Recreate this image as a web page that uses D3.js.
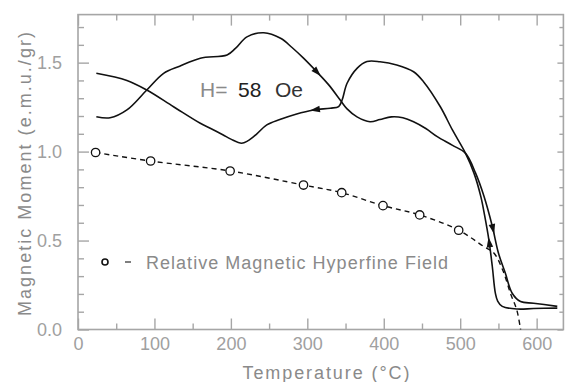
<!DOCTYPE html>
<html>
<head>
<meta charset="utf-8">
<script src="https://cdn.jsdelivr.net/npm/d3@7"></script>
<style>
  body { margin: 0; background: #fff; }
  svg { display: block; font-family: "Liberation Sans", Arial, sans-serif; }
</style>
</head>
<body>
<div id="chart"></div>
<script>
// data: [temperature C, moment emu/gr]
var heating = [[24,1.196],[42,1.19],[64,1.234],[90,1.346],[112,1.44],[133,1.48],[160,1.525],
  [195,1.543],[206,1.58],[221,1.645],[243,1.668],[265,1.637],[280,1.585],[295,1.525],[312,1.45],
  [328,1.375],[343,1.29],[352,1.24],[365,1.195],[382,1.168],[395,1.18],[410,1.195],[425,1.19],
  [439,1.168],[455,1.13],[470,1.084],[490,1.035],[507,0.99],[520,0.88],[531,0.75],[542,0.58],
  [550,0.43],[559,0.317],[568,0.204],[579,0.157],[596,0.148],[627,0.13]];

var cooling = [[627,0.12],[596,0.118],[575,0.115],[555,0.13],[549,0.16],[546,0.204],[542,0.354],
  [537.5,0.504],[532,0.64],[527,0.747],[518,0.879],[507,0.99],[490,1.12],[474,1.252],[452,1.393],
  [439,1.449],[417,1.487],[395,1.505],[378,1.506],[365,1.468],[352,1.384],[345.5,1.29],[341,1.253],
  [330,1.244],[308,1.234],[285,1.21],[264,1.18],[247,1.15],[234,1.1],[222,1.06],[214,1.047],
  [200,1.07],[190,1.093],[173,1.131],[160,1.159],[125,1.252],[90,1.346],[64,1.40],[24,1.44]];

// relative hyperfine field (circles) and the dashed tail to Tc
var hyperfine = [[23,0.995],[95,0.947],[199,0.891],[295,0.812],[345,0.769],[399,0.696],[447,0.644],[498,0.558]];
var hyperfineTail = [[531,0.466],[544,0.43],[556,0.33],[566,0.2],[574,0.11],[579,0]];

var xTicks = [0,100,200,300,400,500,600];
var xMinor = [50,150,250,350,450,550,650];
var yTicks = [0,0.5,1.0,1.5];
var yMinor = [0.1,0.2,0.3,0.4,0.6,0.7,0.8,0.9,1.1,1.2,1.3,1.4,1.6,1.7];

// arrows: which curve and near what temperature
var arrows = [{c: "heating", t: 313}, {c: "heating", t: 543}, {c: "cooling", t: 310}, {c: "cooling", t: 538}];

var W = 573, H = 382;
var axisCol = "#a6a6a6", textCol = "#a0a0a0";

var x = d3.scaleLinear().domain([0, 635]).range([78, 563.4]);
var y = d3.scaleLinear().domain([0, 1.77]).range([329.5, 14.6]);

var svg = d3.select("#chart").append("svg").attr("width", W).attr("height", H);

// frame
svg.append("rect")
  .attr("x", x(0)).attr("y", y(1.77))
  .attr("width", x(635) - x(0)).attr("height", y(0) - y(1.77))
  .attr("fill", "none").attr("stroke", axisCol).attr("stroke-width", 1.6);

function styleAxis(g) {
  g.select(".domain").remove();
  g.selectAll("line").attr("stroke", axisCol).attr("stroke-width", 1.4);
  g.selectAll("text").attr("fill", textCol).style("font-size", "18px");
}

var fmtY = d3.format(".1f");

svg.append("g").attr("transform", "translate(0," + y(0) + ")")
  .call(d3.axisBottom(x).tickValues(xTicks).tickSizeInner(-11).tickSizeOuter(0).tickPadding(8))
  .call(styleAxis);
svg.append("g").attr("transform", "translate(0," + y(0) + ")")
  .call(d3.axisBottom(x).tickValues(xMinor.filter(function(d){ return d < 635; })).tickSizeInner(-6).tickSizeOuter(0).tickFormat(""))
  .call(styleAxis);
svg.append("g").attr("transform", "translate(0," + y(1.77) + ")")
  .call(d3.axisTop(x).tickValues(xTicks).tickSizeInner(-11).tickSizeOuter(0).tickFormat(""))
  .call(styleAxis);
svg.append("g").attr("transform", "translate(0," + y(1.77) + ")")
  .call(d3.axisTop(x).tickValues(xMinor.filter(function(d){ return d < 635; })).tickSizeInner(-6).tickSizeOuter(0).tickFormat(""))
  .call(styleAxis);

svg.append("g").attr("transform", "translate(" + x(0) + ",0)")
  .call(d3.axisLeft(y).tickValues(yTicks).tickSizeInner(-11).tickSizeOuter(0).tickPadding(16).tickFormat(fmtY))
  .call(styleAxis);
svg.append("g").attr("transform", "translate(" + x(0) + ",0)")
  .call(d3.axisLeft(y).tickValues(yMinor).tickSizeInner(-6).tickSizeOuter(0).tickFormat(""))
  .call(styleAxis);
svg.append("g").attr("transform", "translate(" + x(635) + ",0)")
  .call(d3.axisRight(y).tickValues(yTicks).tickSizeInner(-6).tickSizeOuter(0).tickFormat(""))
  .call(styleAxis);
svg.append("g").attr("transform", "translate(" + x(635) + ",0)")
  .call(d3.axisRight(y).tickValues(yMinor).tickSizeInner(-4).tickSizeOuter(0).tickFormat(""))
  .call(styleAxis);

// axis titles
svg.append("text")
  .attr("transform", "translate(31,174) rotate(-90)")
  .attr("text-anchor", "middle")
  .attr("fill", "#8a8a8a")
  .attr("textLength", 284).attr("lengthAdjust", "spacing")
  .style("font-size", "18px")
  .text("Magnetic Moment (e.m.u./gr)");

svg.append("text")
  .attr("x", 326).attr("y", 379)
  .attr("text-anchor", "middle")
  .attr("fill", "#8a8a8a")
  .attr("textLength", 167).attr("lengthAdjust", "spacing")
  .style("font-size", "18px")
  .text("Temperature (°C)");

// curves
var line = d3.line()
  .x(function(d) { return x(d[0]); })
  .y(function(d) { return y(d[1]); })
  .curve(d3.curveCatmullRom.alpha(0.5));

var paths = {};
paths.heating = svg.append("path").datum(heating)
  .attr("d", line).attr("fill", "none").attr("stroke", "#111").attr("stroke-width", 1.6);
paths.cooling = svg.append("path").datum(cooling)
  .attr("d", line).attr("fill", "none").attr("stroke", "#111").attr("stroke-width", 1.6);

svg.append("path").datum(hyperfine.concat(hyperfineTail))
  .attr("d", line).attr("fill", "none").attr("stroke", "#111")
  .attr("stroke-width", 1.4).attr("stroke-dasharray", "5,4");

svg.selectAll("circle.hf").data(hyperfine).enter().append("circle")
  .attr("class", "hf")
  .attr("cx", function(d) { return x(d[0]); })
  .attr("cy", function(d) { return y(d[1]); })
  .attr("r", 4.2)
  .attr("fill", "#fff").attr("stroke", "#111").attr("stroke-width", 1.3);

// arrowheads placed on the path, pointing along the direction of travel
arrows.forEach(function(a) {
  var node = paths[a.c].node();
  var len = node.getTotalLength();
  var tx = x(a.t), best = 0, bestD = 1e9;
  for (var l = 0; l <= len; l += 0.5) {
    var p = node.getPointAtLength(l);
    var dd = Math.abs(p.x - tx);
    if (dd < bestD) { bestD = dd; best = l; }
  }
  var p0 = node.getPointAtLength(Math.max(0, best - 2));
  var p1 = node.getPointAtLength(Math.min(len, best + 2));
  var pc = node.getPointAtLength(best);
  var ang = Math.atan2(p1.y - p0.y, p1.x - p0.x) * 180 / Math.PI;
  svg.append("path")
    .attr("d", "M5,0 L-5,-3.3 L-5,3.3 Z")
    .attr("fill", "#111")
    .attr("transform", "translate(" + pc.x + "," + pc.y + ") rotate(" + ang + ")");
});

// annotation
var ann = svg.append("text").attr("y", 97).style("font-size", "21px");
ann.append("tspan").attr("x", 200).attr("fill", "#8a8a8a").text("H=");
ann.append("tspan").attr("x", 238).attr("fill", "#222").text("58");
ann.append("tspan").attr("x", 275).attr("fill", "#333").text("Oe");

// legend
svg.append("circle").attr("cx", 105).attr("cy", 262).attr("r", 3)
  .attr("fill", "none").attr("stroke", "#111").attr("stroke-width", 1.6);
svg.append("line").attr("x1", 125).attr("x2", 131).attr("y1", 262).attr("y2", 262)
  .attr("stroke", "#555").attr("stroke-width", 1.5);
svg.append("text")
  .attr("x", 146).attr("y", 268.5)
  .attr("fill", "#8a8a8a")
  .attr("textLength", 302).attr("lengthAdjust", "spacing")
  .style("font-size", "18px")
  .text("Relative Magnetic Hyperfine Field");
</script>
</body>
</html>
